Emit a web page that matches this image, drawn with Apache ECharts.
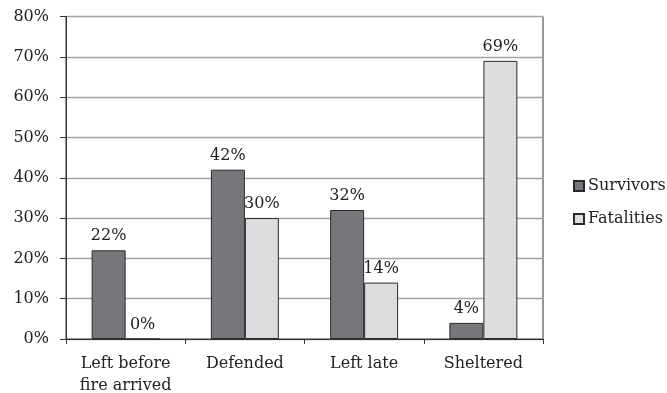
<!DOCTYPE html>
<html>
<head>
<meta charset="utf-8">
<script src="https://cdn.jsdelivr.net/npm/echarts@6/dist/echarts.min.js"></script>
<style>
  html, body { margin: 0; padding: 0; background: #fff; }
  #chart { width: 667px; height: 393px; }
</style>
</head>
<body>
<div id="chart"></div>
<script>
// Evacuation outcome shares by action taken
const categories = ['Left before\nfire arrived', 'Defended', 'Left late', 'Sheltered'];
const survivors = [22, 42, 32, 4];
const fatalities = [0, 30, 14, 69];
const yTicks = [0, 10, 20, 30, 40, 50, 60, 70, 80];

const FONT = '"DejaVu Serif", "Liberation Serif", serif';
const chart = echarts.init(document.getElementById('chart'), null, { renderer: 'canvas' });

const labelStyle = {
  show: true,
  position: 'top',
  distance: 6,
  formatter: p => p.value + '%',
  fontFamily: FONT,
  fontSize: 16,
  color: '#222'
};

chart.setOption({
  animation: false,
  backgroundColor: '#fff',
  textStyle: { fontFamily: FONT },
  grid: {
    left: 66, right: 124, top: 16.5, bottom: 54,
    outerBoundsMode: 'none', containLabel: false,
    show: true, borderColor: '#333', borderWidth: 1
  },
  legend: {
    orient: 'vertical',
    left: 573, top: 178, padding: 0,
    itemWidth: 10, itemHeight: 10, itemGap: 17,
    icon: 'rect',
    textStyle: { fontFamily: FONT, fontSize: 16, color: '#222', padding: [0, 0, 0, -1] },
    data: ['Survivors', 'Fatalities']
  },
  xAxis: {
    type: 'category',
    data: categories,
    axisLine: { lineStyle: { color: '#333', width: 1 } },
    axisTick: { show: true, length: 5, lineStyle: { color: '#333' } },
    axisLabel: {
      fontFamily: FONT, fontSize: 16, color: '#222',
      lineHeight: 22, margin: 14
    }
  },
  yAxis: {
    type: 'value',
    min: 0, max: 80, interval: 10,
    axisLine: { show: true, lineStyle: { color: '#333', width: 1 } },
    axisTick: { show: true, length: 6, lineStyle: { color: '#333' } },
    splitLine: { show: true, lineStyle: { color: '#a3a3a3', width: 1.3 } },
    axisLabel: {
      fontFamily: FONT, fontSize: 16, color: '#222', margin: 17,
      formatter: v => yTicks.includes(v) ? v + '%' : ''
    }
  },
  series: [
    {
      name: 'Survivors', type: 'bar', data: survivors,
      barGap: '0%', barCategoryGap: '43%',
      itemStyle: { color: '#76777b', borderColor: '#2a2a2a', borderWidth: 1 },
      label: labelStyle
    },
    {
      name: 'Fatalities', type: 'bar', data: fatalities,
      itemStyle: { color: '#dcdddf', borderColor: '#2a2a2a', borderWidth: 1 },
      label: labelStyle
    }
  ]
});
</script>
</body>
</html>
